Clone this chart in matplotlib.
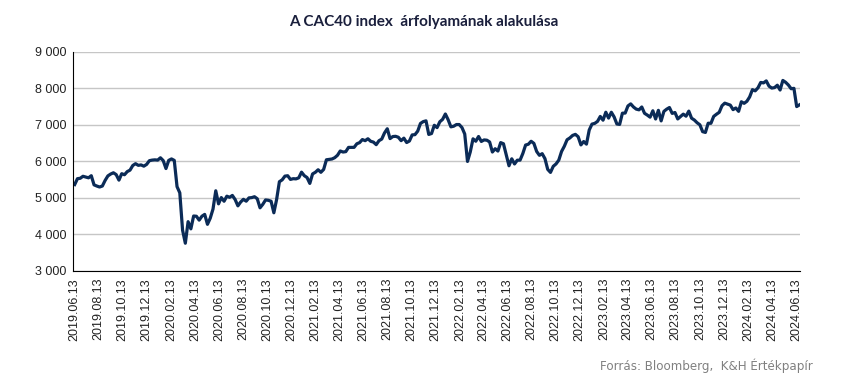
import numpy as np
import pandas as pd
import matplotlib
matplotlib.use("Agg")
import matplotlib.pyplot as plt
import matplotlib.dates as mdates
from matplotlib.ticker import FuncFormatter

# heti záróértékek (becsült), évenként
v2019 = [5367, 5528, 5539,
         5594, 5572, 5552, 5610,
         5359, 5327, 5300, 5327, 5480,
         5604, 5655, 5690, 5640,
         5488, 5665, 5636, 5722,
         5762, 5889, 5939, 5893, 5905,
         5871, 5919, 6021, 6037]
v2020 = [6044, 6037, 6101, 6024, 5806,
         6030, 6069, 6029, 5310,
         5140, 4118, 3760, 4351,
         4154, 4506, 4499, 4393,
         4500, 4550, 4278, 4445, 4695,
         5197, 4839, 5011, 4910,
         5049, 5018, 5069, 4957, 4784,
         4889, 4963, 4911, 5002,
         5010, 5034, 4979, 4730,
         4825, 4946, 4936, 4910, 4594,
         4960, 5445, 5496, 5598,
         5609, 5508, 5528, 5523]
v2021 = [5551, 5707, 5611, 5559, 5399,
         5659, 5703, 5773, 5703,
         5782, 6046, 6055, 6067,
         6103, 6169, 6287, 6258, 6269,
         6385, 6385, 6386, 6484,
         6516, 6600, 6569, 6622,
         6553, 6530, 6460, 6568, 6613,
         6781, 6896, 6626, 6682,
         6689, 6663, 6570, 6638,
         6518, 6560, 6727, 6734, 6830,
         7041, 7091, 7112, 6740,
         6765, 6991, 6927, 7087, 7153]
v2022 = [7300, 7143, 6948, 6965,
         7011, 7011, 6929, 6752,
         6000, 6260, 6620, 6554,
         6684, 6548, 6590, 6582, 6534,
         6258, 6348, 6285, 6516,
         6485, 6187, 5882, 6073,
         5931, 6034, 6036, 6217, 6449,
         6472, 6553, 6495, 6274,
         6168, 6213, 6077, 5783, 5700,
         5867, 5932, 6036, 6273,
         6416, 6595, 6644, 6713,
         6742, 6677, 6453, 6546, 6474]
v2023 = [6860, 7023, 7043, 7097,
         7233, 7130, 7348, 7187,
         7348, 7220, 7026, 7015, 7322,
         7325, 7520, 7577, 7492,
         7433, 7414, 7492, 7319,
         7270, 7213, 7388, 7163, 7400,
         7111, 7372, 7432, 7477,
         7316, 7341, 7164, 7229,
         7296, 7240, 7379, 7185, 7135,
         7060, 7004, 6816, 6795,
         7047, 7045, 7234, 7293,
         7346, 7526, 7597, 7569, 7543]
v2024 = [7420, 7465, 7372, 7635,
         7592, 7648, 7768, 7966,
         7934, 8016, 8164, 8152, 8206,
         8062, 8010, 8023, 8088,
         7957, 8219, 8168, 8094, 7992,
         8002, 7503, 7550]

first_friday = {2019: "2019-06-14", 2020: "2020-01-03", 2021: "2021-01-01",
                2022: "2022-01-07", 2023: "2023-01-06", 2024: "2024-01-05"}
series = {2019: v2019, 2020: v2020, 2021: v2021, 2022: v2022, 2023: v2023, 2024: v2024}

dates = []
values = []
for yr, vals in series.items():
    dates.extend(pd.date_range(first_friday[yr], periods=len(vals), freq="W-FRI"))
    values.extend(vals)

# tengelyfeliratok: minden második hónap 13-a
tick_dates = pd.date_range("2019-06-01", "2024-06-01", freq="2MS") + pd.Timedelta(days=12)

fig = plt.figure(figsize=(8.5, 3.79), dpi=100)
ax = fig.add_axes([0.086, 0.285, 0.855, 0.578])

ax.plot(dates, values, color="#0b2b57", linewidth=2.3, solid_joinstyle="round")

ax.set_ylim(3000, 9000)
ax.set_yticks(np.arange(3000, 9001, 1000))
ax.yaxis.set_major_formatter(FuncFormatter(lambda v, p: f"{int(v):,}".replace(",", " ")))
ax.set_xlim(pd.Timestamp("2019-06-10"), pd.Timestamp("2024-06-22"))
ax.set_xticks(tick_dates)
ax.xaxis.set_major_formatter(mdates.DateFormatter("%Y.%m.%d"))

ax.grid(axis="y", color="#c6c6c6", linewidth=1)
ax.set_axisbelow(True)
for s in ["top", "right"]:
    ax.spines[s].set_visible(False)
ax.spines["left"].set_color("black")
ax.spines["bottom"].set_color("black")
ax.tick_params(length=0, pad=5, labelsize=9, labelcolor="#222222")
for lbl in ax.get_xticklabels():
    lbl.set_rotation(90)
    lbl.set_fontfamily("Liberation Sans")
for lbl in ax.get_yticklabels():
    lbl.set_fontfamily("Liberation Sans")

fig.text(0.499, 0.942, "A CAC40 index  árfolyamának alakulása", ha="center", va="center",
         fontsize=11, fontweight="bold", color="#1a1f3c", family="Lato")
fig.text(0.956, 0.035, "Forrás: Bloomberg,  K&H Értékpapír", ha="right", va="center",
         fontsize=8.6, color="#808080", family="DejaVu Sans")

fig.savefig("out.png", dpi=100)
